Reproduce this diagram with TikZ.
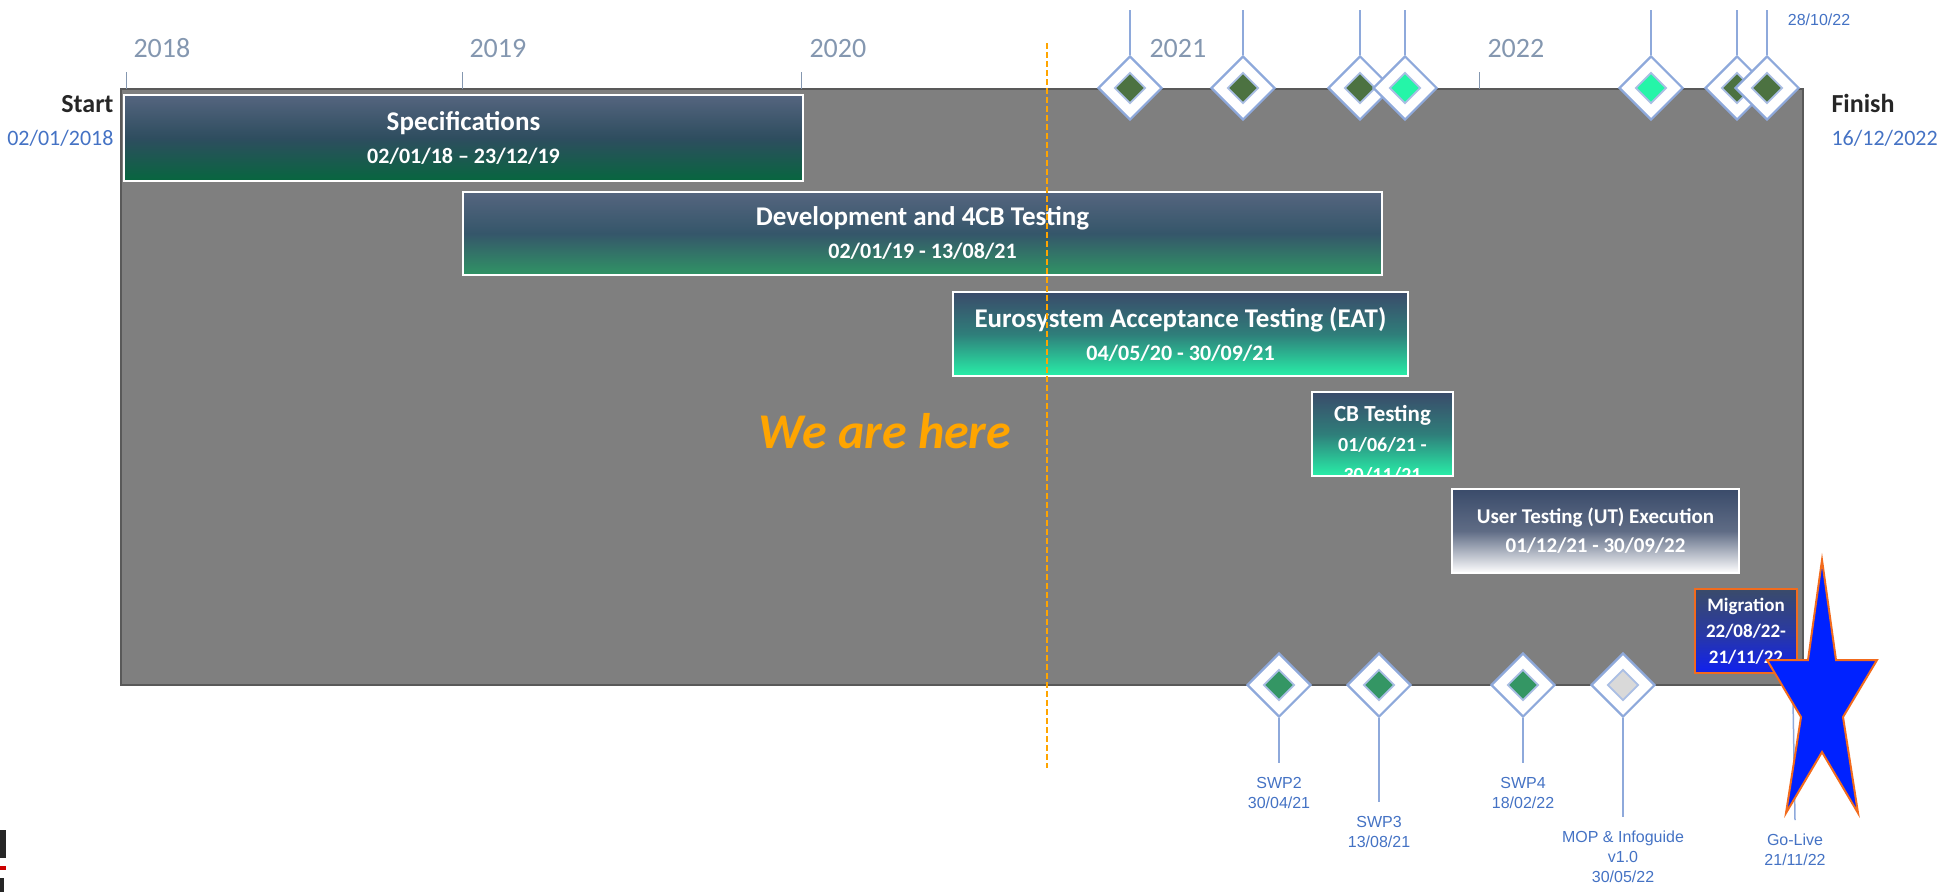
\documentclass[tikz,border=0pt]{standalone}
\usepackage{fontspec}
\setmainfont{Carlito}
\newfontfamily\arialfont{Liberation Sans}
\usetikzlibrary{shapes.geometric}

\definecolor{boxgray}{HTML}{7F7F7F}
\definecolor{edgegray}{HTML}{595959}
\definecolor{yeargray}{HTML}{8497B0}
\definecolor{dateblue}{HTML}{4472C4}
\definecolor{startblack}{HTML}{262626}
\definecolor{navytop}{HTML}{55657F}
\definecolor{navy}{HTML}{3A4B6A}
\definecolor{specmid}{HTML}{2E4D5F}
\definecolor{darkgreen}{HTML}{07663F}
\definecolor{devmid}{HTML}{35566A}
\definecolor{midgreen}{HTML}{309465}
\definecolor{aquamid}{HTML}{2F7E7A}
\definecolor{aqua}{HTML}{28EFA8}
\definecolor{utmid}{HTML}{5F6C85}
\definecolor{migmid}{HTML}{2A3AA0}
\definecolor{migblue}{HTML}{1020F0}
\definecolor{olive}{HTML}{4C7241}
\definecolor{seagreen}{HTML}{349664}
\definecolor{gemaqua}{HTML}{25F5A8}
\definecolor{gemgray}{HTML}{D9D9D9}
\definecolor{pinline}{HTML}{8EA9DB}
\definecolor{hereorange}{HTML}{FFA500}
\definecolor{starblue}{HTML}{0022FF}
\definecolor{starorange}{HTML}{F26B1D}

\tikzset{
	bar/.style={draw=white, line width=2pt, anchor=north west, align=center, text=white,
		font=\bfseries\fontsize{27}{33}\selectfont, inner sep=0pt},
	specbar/.style={bar, top color=navytop, bottom color=darkgreen, middle color=specmid},
	devbar/.style={bar, top color=navytop, bottom color=midgreen, middle color=devmid},
	aquabar/.style={bar, top color=navy, bottom color=aqua, middle color=aquamid},
	utbar/.style={bar, top color=navy, bottom color=white, middle color=utmid,
		font=\bfseries\fontsize{21}{29}\selectfont},
	migbar/.style={bar, draw=starorange, top color=navy, bottom color=migblue, middle color=migmid,
		font=\bfseries\fontsize{19}{26}\selectfont},
	pin/.style={diamond, draw=pinline, fill=white, line width=2.2pt, minimum size=64pt, inner sep=0pt},
	gem/.style={diamond, draw=pinline!75, line width=1.8pt, minimum size=31pt, inner sep=0pt},
	stem/.style={draw=pinline, line width=1.5pt},
	year/.style={anchor=base west, text=yeargray, font=\fontsize{28}{30}\selectfont},
	tick/.style={draw=yeargray, line width=1pt},
	enddate/.style={text=dateblue, font=\fontsize{22}{24}\selectfont},
	mlabel/.style={anchor=north, align=center, text=dateblue, inner ysep=14pt,
		font=\arialfont\fontsize{16}{20}\selectfont},
}

\begin{document}
\begin{tikzpicture}[x=1pt, y=-1pt]
	\useasboundingbox (0,0) rectangle (1944,892);

	% frame
	\draw[draw=edgegray, fill=boxgray, line width=1.5pt] (121,89) rectangle (1803,685);

	% years
	\node[year] (y2018) at (130,57) {2018};
	\node[year] (y2019) at (466,57) {2019};
	\node[year] (y2020) at (806,57) {2020};
	\node[year] (y2021) at (1146,57) {2021};
	\node[year] (y2022) at (1484,57) {2022};
	\draw[tick] (126,72) -- (126,89);
	\draw[tick] (462,72) -- (462,89);
	\draw[tick] (801,72) -- (801,89);
	\draw[tick] (1140,72) -- (1140,89);
	\draw[tick] (1479,72) -- (1479,89);

	% start / finish
	\node[anchor=base east, text=startblack, font=\bfseries\fontsize{26}{28}\selectfont] (start) at (117,112) {Start};
	\node[anchor=base east, enddate] (startdate) at (117,145) {02/01/2018};
	\node[anchor=base west, text=startblack, font=\bfseries\fontsize{26}{28}\selectfont] (finish) at (1828,112) {Finish};
	\node[anchor=base west, enddate] (finishdate) at (1828,145) {16/12/2022};

	% phases
	\node[specbar, minimum width=679pt, minimum height=86pt] (spec) at (123,94)
		{Specifications\\{\fontsize{22}{33}\selectfont 02/01/18 – 23/12/19}};
	\node[devbar, minimum width=919pt, minimum height=83pt] (dev) at (462,191)
		{Development and 4CB Testing\\{\fontsize{22}{33}\selectfont 02/01/19 - 13/08/21}};
	\node[aquabar, minimum width=455pt, minimum height=84pt] (eat) at (952,291)
		{Eurosystem Acceptance Testing (EAT)\\{\fontsize{22}{33}\selectfont 04/05/20 - 30/09/21}};
	\node[aquabar, minimum width=141pt, minimum height=84pt,
		path picture={\node[anchor=north, inner xsep=0pt, inner ysep=12pt, align=center, text=white,
			font=\bfseries\fontsize{23}{30}\selectfont] at (path picture bounding box.north)
			{CB Testing\\{\fontsize{20}{30}\selectfont 01/06/21 -}\\{\fontsize{20}{30}\selectfont 30/11/21}};}]
		(cb) at (1311,391) {};
	\node[utbar, minimum width=287pt, minimum height=84pt] (ut) at (1451,488)
		{User Testing (UT) Execution\\01/12/21 - 30/09/22};
	\node[migbar, minimum width=102pt, minimum height=84pt] (mig) at (1694,588)
		{Migration\\22/08/22-\\21/11/22};

	% today
	\coordinate (nowtop) at (1047,43);
	\coordinate (nowbot) at (1047,768);
	\draw[hereorange, line width=2pt, dash pattern=on 6pt off 3pt] (nowtop) -- (nowbot);
	\node[anchor=base, text=hereorange, font=\bfseries\itshape\fontsize{50}{52}\selectfont] (here) at (885,448) {We are here};

	% top milestones
	\coordinate (m1top) at (1130,10);
	\coordinate (m2top) at (1243,10);
	\coordinate (m3top) at (1360,10);
	\coordinate (m4top) at (1405,10);
	\coordinate (m5top) at (1651,10);
	\coordinate (m6top) at (1737,10);
	\coordinate (m7top) at (1767,10);
	\node[pin] (m1) at (1130,88) {};
	\node[gem, fill=olive] (m1g) at (m1) {};
	\draw[stem] (m1.north) -- (m1top);
	\node[pin] (m2) at (1243,88) {};
	\node[gem, fill=olive] (m2g) at (m2) {};
	\draw[stem] (m2.north) -- (m2top);
	\node[pin] (m3) at (1360,88) {};
	\node[gem, fill=olive] (m3g) at (m3) {};
	\draw[stem] (m3.north) -- (m3top);
	\node[pin] (m4) at (1405,88) {};
	\node[gem, fill=gemaqua] (m4g) at (m4) {};
	\draw[stem] (m4.north) -- (m4top);
	\node[pin] (m5) at (1651,88) {};
	\node[gem, fill=gemaqua] (m5g) at (m5) {};
	\draw[stem] (m5.north) -- (m5top);
	\node[pin] (m6) at (1737,88) {};
	\node[gem, fill=olive] (m6g) at (m6) {};
	\draw[stem] (m6.north) -- (m6top);
	\node[pin] (m7) at (1767,88) {};
	\node[gem, fill=olive] (m7g) at (m7) {};
	\draw[stem] (m7.north) -- (m7top);
	\node[anchor=base, text=dateblue, font=\arialfont\fontsize{16}{18}\selectfont] (lastdate) at (1819,25) {28/10/22};

	% bottom milestones
	\node[pin] (s2) at (1279,685) {};
	\node[gem, fill=seagreen] (s2g) at (s2) {};
	\node[mlabel] (s2l) at (1279,763) {SWP2\\30/04/21};
	\draw[stem] (s2.south) -- (s2l.north);
	\node[pin] (s3) at (1379,685) {};
	\node[gem, fill=seagreen] (s3g) at (s3) {};
	\node[mlabel] (s3l) at (1379,802) {SWP3\\13/08/21};
	\draw[stem] (s3.south) -- (s3l.north);
	\node[pin] (s4) at (1523,685) {};
	\node[gem, fill=seagreen] (s4g) at (s4) {};
	\node[mlabel] (s4l) at (1523,763) {SWP4\\18/02/22};
	\draw[stem] (s4.south) -- (s4l.north);
	\node[pin] (mop) at (1623,685) {};
	\node[gem, fill=gemgray] (mopg) at (mop) {};
	\node[mlabel] (mopl) at (1623,817) {MOP \& Infoguide\\v1.0\\30/05/22};
	\draw[stem] (mop.south) -- (mopl.north);
	\coordinate (golive) at (1793,700);
	\node[mlabel] (golivel) at (1795,820) {Go-Live\\21/11/22};
	\draw[stem] (golive) -- (golivel.north);

	% go-live star
	\draw[fill=starblue, draw=starorange, line width=2pt, line join=miter]
		(1822,560) -- (1836,660) -- (1877,660) -- (1843,717) -- (1858,813) -- (1822,752)
		-- (1786,813) -- (1801,717) -- (1767,660) -- (1808,660) -- cycle;

	% cut-off edge at the left
	\fill[black!85] (0,830) rectangle (6,858);
	\fill[red!80!black] (0,866) rectangle (6,870);
	\fill[black!85] (0,878) rectangle (4,892);
\end{tikzpicture}
\end{document}
